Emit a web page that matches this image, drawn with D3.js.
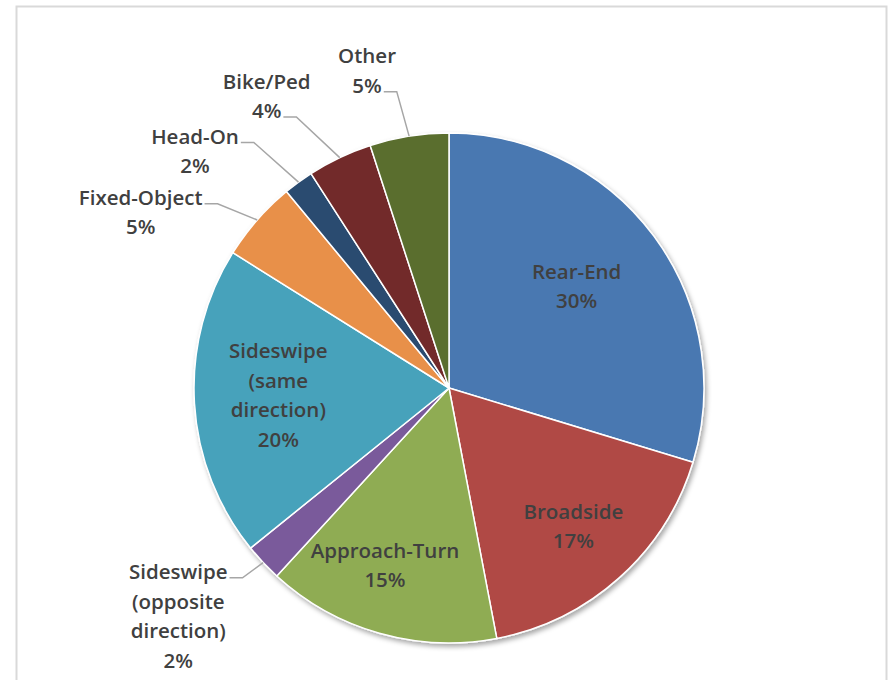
<!DOCTYPE html>
<html>
<head>
<meta charset="utf-8">
<script src="https://cdn.jsdelivr.net/npm/d3@7/dist/d3.min.js"></script>
<style>
  html, body { margin: 0; padding: 0; background: #fff; }
  text { font-family: "Open Sans", "Liberation Sans", sans-serif; fill: #404040; }
</style>
</head>
<body>
<div id="chart"></div>
<script>
"use strict";

// crash types, clockwise from 12 o'clock
var categories = ["Rear-End", "Broadside", "Approach-Turn", "Sideswipe (opposite direction)",
  "Sideswipe (same direction)", "Fixed-Object", "Head-On", "Bike/Ped", "Other"];
var shares = [29.7, 17.3, 14.8, 2.4, 19.7, 5.1, 1.9, 4.1, 5.0];
var labelLines = [
  ["Rear-End"], ["Broadside"], ["Approach-Turn"], ["Sideswipe", "(opposite", "direction)"],
  ["Sideswipe", "(same", "direction)"], ["Fixed-Object"], ["Head-On"], ["Bike/Ped"], ["Other"]
];
var colors = ["#4a78b1", "#b04844", "#8fac52", "#7a5a9b", "#46a2bb",
  "#e8904a", "#2c4b70", "#722c2b", "#5a6e2f"];

// label placement: inside labels sit on a radius fraction, outside ones get a leader line
var layout = {
  "Rear-End": { inside: 0.64, turn: -2 },
  "Broadside": { inside: 0.73, turn: 0 },
  "Approach-Turn": { inside: 0.74, turn: 4 },
  "Sideswipe (same direction)": { inside: 0.67, turn: 1 },
  "Sideswipe (opposite direction)": { rad: 1.10, turn: 0.6, line: 0 },
  "Fixed-Object": { rad: 1.16, turn: -2.7, line: 0 },
  "Head-On": { rad: 1.23, turn: -2.3, line: 0 },
  "Bike/Ped": { rad: 1.22, turn: -4, line: 1 },
  "Other": { rad: 1.18, turn: -1, line: 1 }
};

function render(element) {
  var width = 888, height = 680,
    cx = 449, cy = 388, radius = 255,
    lineH = 29.5, fontSize = 20.5;

  var svg = d3.select(element).append("svg")
    .attr("width", width)
    .attr("height", height);

  var defs = svg.append("defs");
  var shadow = defs.append("filter")
    .attr("id", "shadow")
    .attr("x", "-10%").attr("y", "-10%")
    .attr("width", "130%").attr("height", "130%");
  shadow.append("feDropShadow")
    .attr("dx", 2).attr("dy", 3)
    .attr("stdDeviation", 2.5)
    .attr("flood-color", "#000")
    .attr("flood-opacity", 0.35);

  // chart frame
  svg.append("rect")
    .attr("x", 16.5).attr("y", 6.5)
    .attr("width", 870).attr("height", 700)
    .style("fill", "#fff")
    .style("stroke", "#d9d9d9")
    .style("stroke-width", 2);

  var data = categories.map(function(c, i) {
    return { name: c, value: shares[i], lines: labelLines[i], color: colors[i] };
  });

  var pie = d3.pie()
    .sort(null)
    .value(function(d) { return d.value; });
  var piedata = pie(data);

  var arc = d3.arc()
    .innerRadius(0)
    .outerRadius(radius);

  var g = svg.append("g")
    .attr("transform", "translate(" + cx + "," + cy + ")");

  g.append("g")
    .attr("filter", "url(#shadow)")
    .selectAll("path")
    .data(piedata)
    .enter().append("path")
    .attr("d", arc)
    .style("fill", function(d) { return d.data.color; })
    .style("stroke", "#fff")
    .style("stroke-width", 1.5)
    .style("stroke-linejoin", "round");

  function polar(angle, r) {
    return [Math.sin(angle) * r, -Math.cos(angle) * r];
  }
  function pct(d) { return Math.round(d.data.value) + "%"; }

  piedata.forEach(function(d) {
    var opt = layout[d.data.name];
    var mid = (d.startAngle + d.endAngle) / 2 + opt.turn * Math.PI / 180;
    var lines = d.data.lines.concat([pct(d)]);

    var t = g.append("text")
      .attr("text-anchor", "middle")
      .style("font-size", fontSize + "px")
      .style("font-weight", 600);

    if (opt.inside) {
      var p = polar(mid, radius * opt.inside);
      lines.forEach(function(s, i) {
        t.append("tspan")
          .attr("x", p[0])
          .attr("y", p[1] + (i - (lines.length - 1) / 2) * lineH)
          .attr("dy", "0.35em")
          .text(s);
      });
      return;
    }

    // outside label with a leader line
    var start = polar((d.startAngle + d.endAngle) / 2, radius);
    var elbow = polar(mid, radius * opt.rad);
    var spans = lines.map(function(s) { return t.append("tspan").text(s); });
    var w = spans[opt.line].node().getComputedTextLength();
    var tx = elbow[0] - 15 - w / 2;
    spans.forEach(function(sp, i) {
      sp.attr("x", tx)
        .attr("y", elbow[1] + (i - opt.line) * lineH - 6)
        .attr("dy", "0.35em");
    });

    g.append("path")
      .style("fill", "none")
      .style("stroke", "#a6a6a6")
      .style("stroke-width", 1.5)
      .attr("d", "M" + (elbow[0] - 13) + "," + elbow[1] + "L" + elbow[0] + "," + elbow[1] +
        "L" + start[0] + "," + start[1]);
  });
}

render(document.getElementById("chart"));
</script>
</body>
</html>
